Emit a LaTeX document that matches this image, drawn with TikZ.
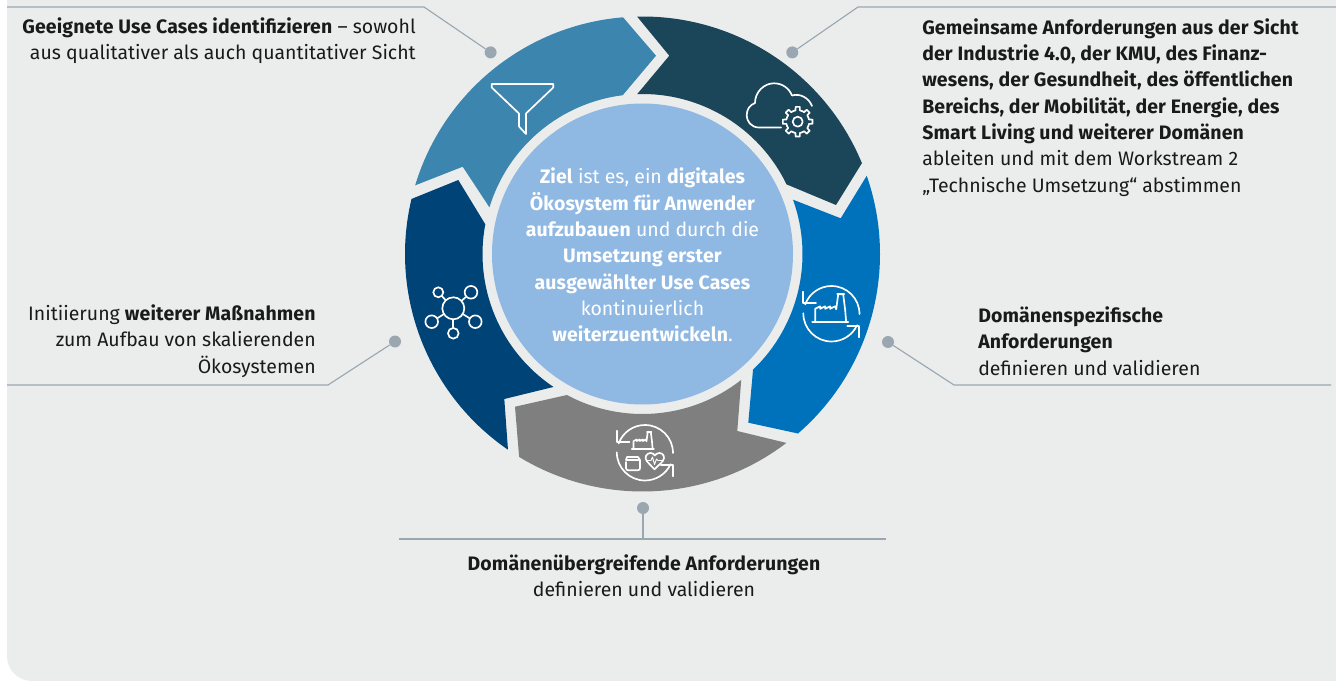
\documentclass[tikz,border=0pt]{standalone}
\usepackage{fontspec}
\setmainfont{Fira Sans}[BoldFeatures={LetterSpace=0.7}]
\usetikzlibrary{calc}
\definecolor{bgc}{HTML}{EBEDED}
\definecolor{segA}{HTML}{3C85AE}
\definecolor{segB}{HTML}{1B4559}
\definecolor{segC}{HTML}{0072BC}
\definecolor{segD}{HTML}{7F7F7F}
\definecolor{segE}{HTML}{004376}
\definecolor{core}{HTML}{8FB8E3}
\definecolor{conn}{HTML}{9AA7B0}
\definecolor{txt}{HTML}{1A1A1A}
\newcommand{\seg}[9]{%
  \fill[#1] ($(C)+(#2:237.5)$) arc[start angle=#2,end angle=#3,radius=237.5] -- (#4,#5)
    -- ($(C)+(#6:160)$) arc[start angle=#6,end angle=#7,radius=160] -- (#8,#9) -- cycle;}
\newcommand{\cycleicon}[2]{%
  \begin{scope}[shift={(#1,#2)}]
    \draw[icon] (28,0) arc[start angle=0,end angle=-160,radius=28];
    \draw[icon] (-28.2,-22.3) -- (-28.2,-10.7) -- (-15.5,-10.7);
    \draw[icon] (-28.2,-.7) arc[start angle=180,end angle=25,radius=28.2];
    \draw[icon] (15.8,12) -- (27.8,12) -- (27.8,23.3);
  \end{scope}}
\newcommand{\factoryicon}[3]{%
  \begin{scope}[shift={(#1,#2)},scale=#3]
    \draw[icon] (-18,8) -- (18,8);
    \draw[icon] (-15,8) -- (-15,-5.5) -- (-10,-8) -- (-10,-5.5) -- (-5,-8) -- (-5,-5.5) -- (0,-8) -- (0,-5.5) -- (5,-8) -- (6,-5) -- (8,-20) -- (13,-20) -- (15,-4) -- (16,8);
    \draw[icon] (7,-20) -- (14,-20);
  \end{scope}}
\tikzset{
  dot/.style={circle,fill=conn,inner sep=0pt,minimum size=9pt},
  conline/.style={draw=conn,line width=.85pt},
  lbl/.style={font=\fontsize{14.6pt}{19.75pt}\selectfont,text=txt,inner sep=0pt},
  icon/.style={draw=white,line width=1.25pt,line join=round,line cap=round},
  sat/.style={circle,draw=white,line width=1.25pt,inner sep=0pt}
}
\begin{document}
\begin{tikzpicture}[x=.75pt,y=.75pt,yscale=-1]
\useasboundingbox (0,0) rectangle (1336,681);
\fill[bgc] (7,0) -- (1336,0) -- (1336,681) -- (32,681) .. controls (18,681) and (7,670) .. (7,656) -- cycle;
\coordinate (C) at (642.5,254);

% ring segments
\seg{segA}{196.8}{265.3}{656}{55.7}{262.9}{196.95}{462.7}{166.7}
\seg{segB}{268.7}{337.5}{836}{205}{334.2}{268.1}{669.3}{55.7}
\seg{segC}{-19.24}{49.1}{748.3}{422.7}{46.3}{-19.85}{840.7}{218.3}
\seg{segD}{52.7}{121.3}{515}{406.7}{118.2}{51.9}{737.3}{431}
\seg{segE}{124.5}{193.4}{458.3}{180}{190.7}{123.8}{504.3}{399}

% core
\fill[core] (C) circle[radius=150.5];
\node[lbl,text=white,align=center] (goal) at (642.5,255) {\textbf{Ziel} ist es, ein \textbf{digitales}\\\textbf{Ökosystem für Anwender}\\\textbf{aufzubauen} und durch die\\\textbf{Umsetzung erster}\\\textbf{ausgewählter Use Cases}\\kontinuierlich\\\textbf{weiterzuentwickeln}.};

% funnel
\draw[icon] (491.7,84) -- (553.3,84) -- (553.3,87.5) -- (526,113.5) -- (526,134) -- (519,126.5) -- (519,113.5) -- (491.7,87.5) -- cycle;

% cloud and gear
\draw[icon] (781,127.5) -- (759,127.5) .. controls (751,127.5) and (746.7,121) .. (746.7,115.5) .. controls (746.7,109) and (750,105) .. (755,103) .. controls (755,92) and (764,83.3) .. (774,83.3) .. controls (782,83.3) and (789,88) .. (792,95.5) .. controls (800,93) and (809,98) .. (812,106);
\coordinate (G) at (797.7,121.7);
\draw[icon] (G) circle[radius=5];
\foreach \a in {0,45,...,315}{
  \draw[icon] ($(G)+(\a-22.5:11.5)$) -- ($(G)+(\a-11:11.5)$) -- ($(G)+(\a-8:15)$) -- ($(G)+(\a+8:15)$) -- ($(G)+(\a+11:11.5)$) -- ($(G)+(\a+22.5:11.5)$);
}

% factory cycle
\cycleicon{831.5}{314}
\factoryicon{830.2}{314.3}{1}

% domain cycle
\cycleicon{645}{453}
\factoryicon{642.8}{444.4}{.615}
\draw[icon] (626,462) -- (626,468) .. controls (626,469.5) and (627,470.2) .. (628,470.2) -- (638,470.2) .. controls (639.5,470.2) and (640,469.5) .. (640,468) -- (640,460) -- (626,460) -- (627,457) -- (638,457) -- (640,460);
\draw[icon] (654.5,469.3) -- (647,461.5) .. controls (643.5,457) and (647,453) .. (650.5,453) .. controls (652.5,453) and (654,454) .. (654.8,455.5) .. controls (655.5,454) and (657.5,453) .. (659.5,453) .. controls (663,453) and (666,457) .. (662.5,461.5) -- cycle;
\draw[icon,line width=.7pt] (647,460.5) -- (651,460.5) -- (652.5,457) -- (654.5,464.5) -- (656.5,459) -- (658,460.5) -- (662,460.5);

% network
\node[sat,minimum size=16.5pt] (hub) at (453.3,308.3) {};
\node[sat,minimum size=7.5pt] (n1) at (438.3,292.3) {};
\node[sat,minimum size=9.5pt] (n2) at (471,292.3) {};
\node[sat,minimum size=9.5pt] (n3) at (431.7,321.7) {};
\node[sat,minimum size=9.5pt] (n4) at (475.3,321.7) {};
\node[sat,minimum size=8pt] (n5) at (453.3,333.3) {};
\foreach \n in {n1,n2,n3,n4,n5}{\draw[icon] (hub) -- (\n);}

% connectors
\node[dot] (d1) at (490.6,52.4) {};
\node[dot] (d2) at (792.3,52.4) {};
\node[dot] (d3) at (395,341.5) {};
\node[dot] (d4) at (888,342) {};
\node[dot] (d5) at (643,508) {};
\coordinate (e1) at (424,7); \coordinate (f1) at (7,7);
\coordinate (e2) at (858,7); \coordinate (f2) at (1336,7);
\coordinate (e3) at (328,385); \coordinate (f3) at (7,385);
\coordinate (e4) at (954,385); \coordinate (f4) at (1331,385);
\coordinate (e5) at (643,539); \coordinate (f5a) at (399,539); \coordinate (f5b) at (886,539);
\draw[conline] (d1) -- (e1) -- (f1);
\draw[conline] (d2) -- (e2) -- (f2);
\draw[conline] (d3) -- (e3) -- (f3);
\draw[conline] (d4) -- (e4) -- (f4);
\draw[conline] (d5) -- (e5);
\draw[conline] (f5a) -- (f5b);

% labels
\node[lbl,align=right,anchor=east] (t1) at (416,40.5) {\textbf{Geeignete Use Cases identifizieren} – sowohl\\aus qualitativer als auch quantitativer Sicht};
\node[lbl,align=left,anchor=west] (t2) at (922,107.5) {\textbf{Gemeinsame Anforderungen aus der Sicht}\\\textbf{der Industrie 4.0, der KMU, des Finanz-}\\\textbf{wesens, der Gesundheit, des öffentlichen}\\\textbf{Bereichs, der Mobilität, der Energie, des}\\\textbf{Smart Living und weiterer Domänen}\\ableiten und mit dem Workstream 2\\„Technische Umsetzung“ abstimmen};
\node[lbl,align=right,anchor=east] (t3) at (316,341) {Initiierung \textbf{weiterer Maßnahmen}\\zum Aufbau von skalierenden\\Ökosystemen};
\node[lbl,align=left,anchor=west] (t4) at (978,341) {\textbf{Domänenspezifische}\\\textbf{Anforderungen}\\definieren und validieren};
\node[lbl,align=center] (t5) at (644,576) {\textbf{Domänenübergreifende Anforderungen}\\definieren und validieren};
\end{tikzpicture}
\end{document}
